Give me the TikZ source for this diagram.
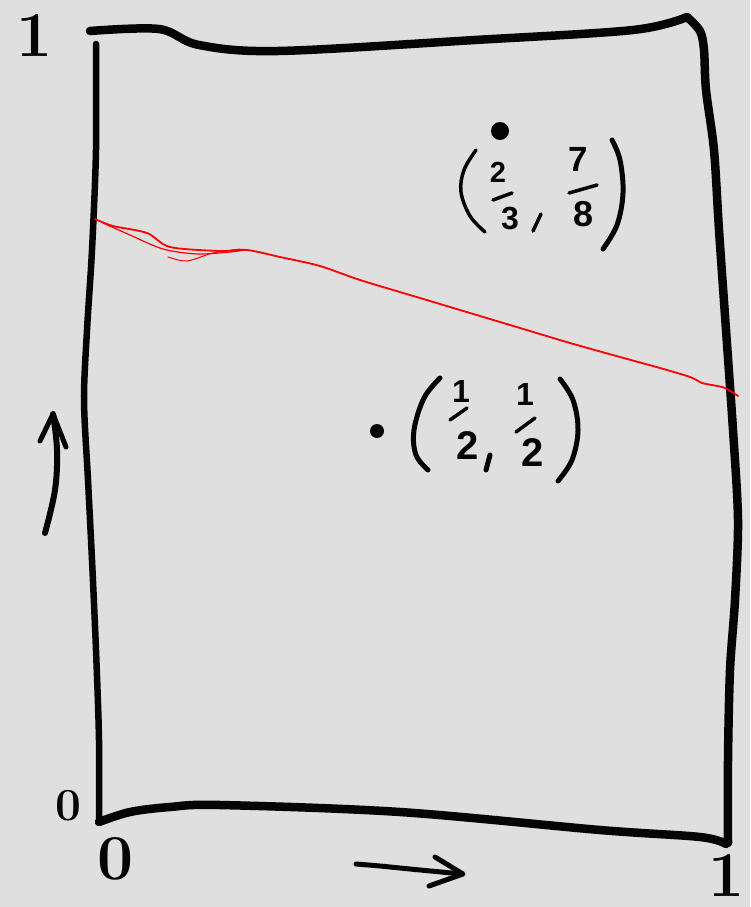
\documentclass[tikz,border=0pt]{standalone}
\usepackage{fontspec}
\newfontfamily\handsans{Liberation Sans}
\definecolor{paper}{HTML}{DFDFDF}
\definecolor{ink}{HTML}{050505}
\definecolor{redink}{HTML}{FF0000}
\begin{document}
\begin{tikzpicture}[x=1pt,y=-1pt,
  frame/.style={ink,line width=8.5pt,line cap=round,line join=round},
  pen/.style={ink,line width=5pt,line cap=round,line join=round},
  thinpen/.style={ink,line width=3.5pt,line cap=round,line join=round},
  redpen/.style={redink,line width=1.8pt,line cap=round,line join=round},
  bigdigit/.style={ink,inner sep=0pt,font=\fontsize{64}{70}\selectfont\bfseries},
  fracdigit/.style={ink,inner sep=0pt,font=\handsans\bfseries}
]
\fill[paper] (0,0) rectangle (750,907);
\useasboundingbox (0,0) rectangle (750,907);

% frame
\draw[frame] plot[smooth,tension=0.55] coordinates {(90,31) (159,29) (199,45) (278,51) (475,40) (633,30) (687,17)};
\draw[frame] plot[smooth,tension=0.5] coordinates {(687,17) (700,31) (704,50) (706,90) (714,150) (719,230) (726,330) (733,430) (738,520) (735,600) (730,670) (728,760) (728,843)};
\draw[frame] plot[smooth,tension=0.55] coordinates {(99,822) (130,812) (170,807) (220,805) (400,812) (600,830) (700,837) (726,844)};
\draw[ink,line width=6.5pt,line cap=round] plot[smooth,tension=0.5] coordinates {(96,44) (96,150) (92,250) (87,330) (84,400) (88,480) (92,560) (96,650) (99,740) (99,822)};

% axis labels
\node[bigdigit] (ytop) at (35,36) {1};
\node[ink,inner sep=0pt,font=\fontsize{46}{50}\selectfont\bfseries] (yzero) at (68,806) {0};
\node[bigdigit] (xzero) at (116,859) {0};
\node[bigdigit] (xone) at (727,875) {1};

% arrows
\draw[ink,line width=6pt,line cap=round,line join=round] plot[smooth,tension=0.6] coordinates {(45,533) (55,490) (57,450) (53,414)};
\draw[pen] (40,441) -- (53,414) -- (66,447);
\draw[pen] plot[smooth,tension=0.6] coordinates {(356,864) (380,866) (410,869) (462,874)};
\draw[pen] (435,857) -- (463,874) -- (429,886);

% red line
\draw[redpen] plot[smooth,tension=0.5] coordinates {(95,219) (113,226) (147,233) (170,247) (220,251) (247,250) (280,257) (320,266) (360,280) (420,298) (470,313) (520,328) (570,343) (620,357) (660,368) (690,377) (702,383) (712,385) (725,388) (738,396)};
\draw[redink,line width=1.2pt,line cap=round] plot[smooth,tension=0.5] coordinates {(103,223) (130,235) (163,249) (197,254) (230,252) (245,250)};
\draw[redink,line width=1pt,line cap=round] plot[smooth,tension=0.5] coordinates {(168,257) (187,261) (213,253) (240,249)};

% point (2/3, 7/8)
\fill[ink] (500,131) circle (9);
\draw[thinpen] plot[smooth,tension=0.6] coordinates {(476,150) (464,170) (461,192) (470,216) (485,232)};
\node[fracdigit,font=\handsans\bfseries\fontsize{29}{32}\selectfont] (a2) at (498,172) {2};
\draw[thinpen] (493,200) -- (512,193);
\node[fracdigit,font=\handsans\bfseries\fontsize{32}{35}\selectfont] (a3) at (510,219) {3};
\draw[thinpen] (541,214) -- (533,231);
\node[fracdigit,font=\handsans\bfseries\fontsize{35}{38}\selectfont] (a7) at (578,159) {7};
\draw[thinpen] (569,193) -- (597,185);
\node[fracdigit,font=\handsans\bfseries\fontsize{36}{39}\selectfont] (a8) at (584,214) {8};
\draw[pen] plot[smooth,tension=0.6] coordinates {(612,140) (620,160) (623,193) (617,225) (603,249)};

% point (1/2, 1/2)
\fill[ink] (377,431) circle (7);
\draw[pen] plot[smooth,tension=0.6] coordinates {(440,378) (424,398) (414,430) (416,455) (428,470)};
\node[fracdigit,font=\handsans\bfseries\fontsize{32}{36}\selectfont] (b1) at (461,391) {1};
\draw[thinpen] (450,420) -- (467,408);
\node[fracdigit,font=\handsans\bfseries\fontsize{40}{44}\selectfont] (b2) at (468,446) {2};
\draw[pen] (490,455) -- (486,470);
\node[fracdigit,font=\handsans\bfseries\fontsize{32}{36}\selectfont] (b3) at (525,394) {1};
\draw[thinpen] (516,432) -- (535,418);
\node[fracdigit,font=\handsans\bfseries\fontsize{40}{44}\selectfont] (b4) at (533,453) {2};
\draw[pen] plot[smooth,tension=0.6] coordinates {(560,379) (573,400) (578,430) (572,460) (558,481)};
\end{tikzpicture}
\end{document}
